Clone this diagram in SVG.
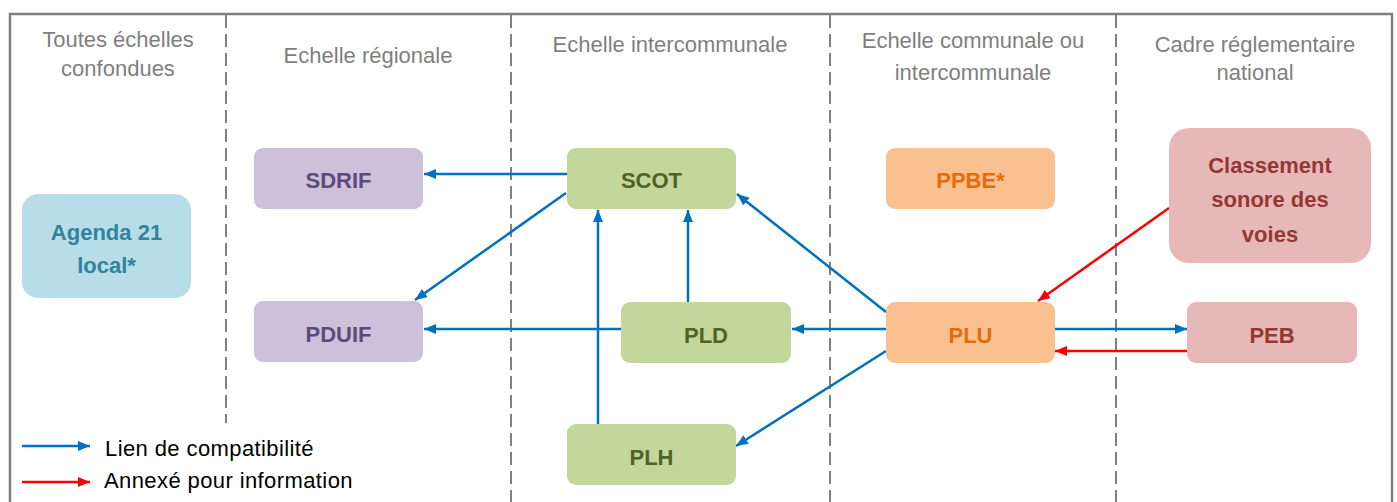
<svg xmlns="http://www.w3.org/2000/svg" width="1397" height="502" viewBox="0 0 1397 502">
<style>
.hdr{font-family:"Liberation Sans",Arial,sans-serif;font-size:22px;fill:#7f7f7f;text-anchor:middle}
.lbl{font-family:"Liberation Sans",Arial,sans-serif;font-size:22px;font-weight:bold;text-anchor:middle}
.leg{font-family:"Liberation Sans",Arial,sans-serif;font-size:22px;fill:#000;letter-spacing:0.4px}
.div{stroke:#808080;stroke-width:2;stroke-dasharray:13,6;fill:none}
.blue{stroke:#0070c0;stroke-width:2.5;fill:none;marker-end:url(#ab)}
.red{stroke:#ff0000;stroke-width:2.5;fill:none;marker-end:url(#ar)}
</style>
<defs>
<marker id="ab" markerUnits="userSpaceOnUse" markerWidth="12" markerHeight="10" refX="12" refY="5" orient="auto"><path d="M0,0 L12,5 L0,10 z" fill="#0070c0"/></marker>
<marker id="ar" markerUnits="userSpaceOnUse" markerWidth="12" markerHeight="10" refX="12" refY="5" orient="auto"><path d="M0,0 L12,5 L0,10 z" fill="#ff0000"/></marker>
</defs>
<rect width="1397" height="502" fill="#fff"/>
<g id="frame">
<path d="M10,503 V14 H1392 V503" fill="none" stroke="#808080" stroke-width="2.5"/>
<line class="div" x1="226" y1="15" x2="226" y2="423"/>
<line class="div" x1="511" y1="15" x2="511" y2="502"/>
<line class="div" x1="830" y1="15" x2="830" y2="502"/>
<line class="div" x1="1116" y1="15" x2="1116" y2="502"/>
</g>
<g id="headers">
<text class="hdr" x="118" y="47">Toutes échelles</text>
<text class="hdr" x="118" y="76">confondues</text>
<text class="hdr" x="368" y="63">Echelle régionale</text>
<text class="hdr" x="670" y="52">Echelle intercommunale</text>
<text class="hdr" x="973" y="48">Echelle communale ou</text>
<text class="hdr" x="973" y="80">intercommunale</text>
<text class="hdr" x="1255" y="52">Cadre réglementaire</text>
<text class="hdr" x="1255" y="80">national</text>
</g>
<g id="connectors">
<line class="blue" x1="567" y1="174" x2="424" y2="174"/>
<line class="blue" x1="566" y1="193" x2="415" y2="300"/>
<line class="blue" x1="621" y1="329" x2="424" y2="329"/>
<line class="blue" x1="598" y1="424" x2="598" y2="210"/>
<line class="blue" x1="688" y1="302" x2="688" y2="210"/>
<line class="blue" x1="886" y1="312" x2="737" y2="194"/>
<line class="blue" x1="886" y1="329" x2="792" y2="329"/>
<line class="blue" x1="886" y1="351" x2="736" y2="446"/>
<line class="blue" x1="1054" y1="329" x2="1187" y2="329"/>
<line class="red" x1="1187" y1="351" x2="1055" y2="351"/>
<line class="red" x1="1169" y1="208" x2="1038" y2="301"/>
</g>
<g id="agenda21">
<rect x="22" y="194" width="169" height="104" rx="16" fill="#b7dde8"/>
<text class="lbl" x="106.5" y="240" fill="#31849b">Agenda 21</text>
<text class="lbl" x="106.5" y="273" fill="#31849b">local*</text>
</g>
<g id="sdrif">
<rect x="254" y="148" width="169" height="61" rx="9" fill="#ccc0da"/>
<text class="lbl" x="338.5" y="188" fill="#5f497a">SDRIF</text>
</g>
<g id="pduif">
<rect x="254" y="301" width="169" height="61" rx="9" fill="#ccc0da"/>
<text class="lbl" x="338.5" y="342" fill="#5f497a">PDUIF</text>
</g>
<g id="scot">
<rect x="567" y="148" width="169" height="61" rx="9" fill="#c3d69b"/>
<text class="lbl" x="651.5" y="188" fill="#4f6228">SCOT</text>
</g>
<g id="pld">
<rect x="621" y="302" width="170" height="61" rx="9" fill="#c3d69b"/>
<text class="lbl" x="706" y="343" fill="#4f6228">PLD</text>
</g>
<g id="plh">
<rect x="567" y="424" width="169" height="61" rx="9" fill="#c3d69b"/>
<text class="lbl" x="651.5" y="465" fill="#4f6228">PLH</text>
</g>
<g id="ppbe">
<rect x="886" y="148" width="169" height="61" rx="9" fill="#fac090"/>
<text class="lbl" x="970.5" y="188" fill="#e46c0a">PPBE*</text>
</g>
<g id="plu">
<rect x="886" y="302" width="169" height="61" rx="9" fill="#fac090"/>
<text class="lbl" x="970.5" y="343" fill="#e46c0a">PLU</text>
</g>
<g id="classement">
<rect x="1169" y="128" width="202" height="135" rx="20" fill="#e6b9b8"/>
<text class="lbl" x="1270" y="173" fill="#953735">Classement</text>
<text class="lbl" x="1270" y="207" fill="#953735">sonore des</text>
<text class="lbl" x="1270" y="242" fill="#953735">voies</text>
</g>
<g id="peb">
<rect x="1187" y="302" width="170" height="61" rx="9" fill="#e6b9b8"/>
<text class="lbl" x="1272" y="343" fill="#953735">PEB</text>
</g>
<g id="legend">
<line class="blue" x1="22" y1="446" x2="90" y2="446"/>
<text class="leg" x="105" y="456">Lien de compatibilité</text>
<line class="red" x1="22" y1="482" x2="90" y2="482"/>
<text class="leg" x="104" y="488">Annexé pour information</text>
</g>
</svg>
